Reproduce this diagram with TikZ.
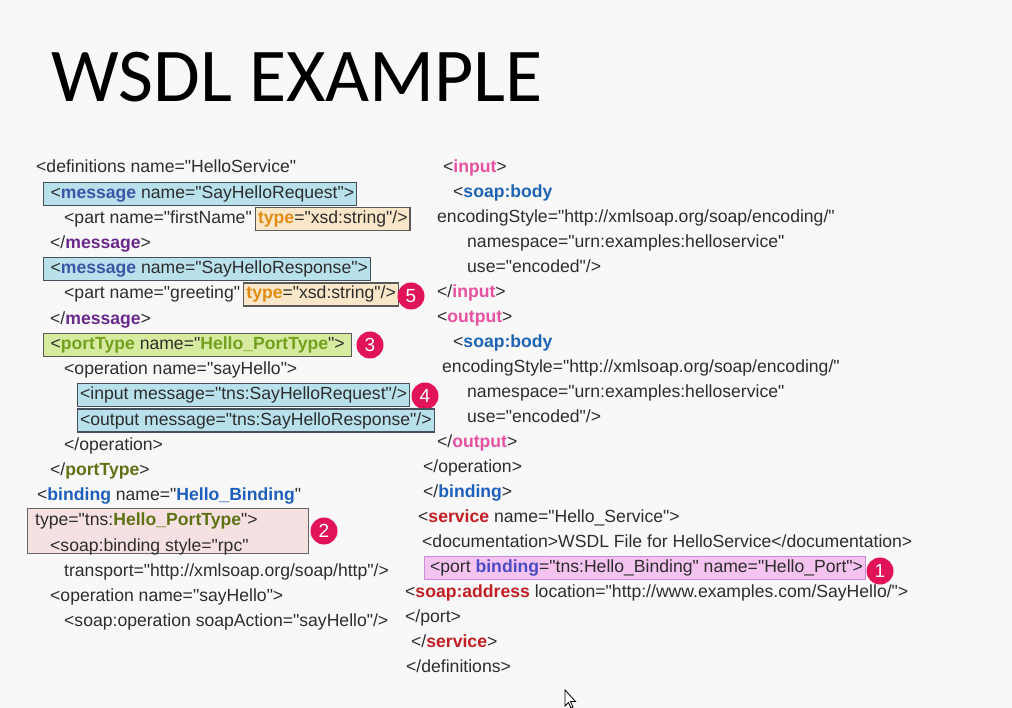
\documentclass[tikz,border=0pt]{standalone}
\usepackage{fontspec}
\setmainfont{Liberation Sans}[Ligatures=TeXOff]
\newfontfamily\titlefont{Carlito}
\definecolor{bg}{RGB}{248,248,248}
\definecolor{txt}{RGB}{45,45,45}
\definecolor{msgc}{RGB}{60,85,165}
\definecolor{msgend}{RGB}{105,40,140}
\definecolor{ptc}{RGB}{115,160,30}
\definecolor{ptend}{RGB}{95,115,20}
\definecolor{bindc}{RGB}{30,95,190}
\definecolor{typec}{RGB}{225,140,20}
\definecolor{ioc}{RGB}{232,80,160}
\definecolor{bodyc}{RGB}{30,100,180}
\definecolor{servc}{RGB}{195,30,35}
\definecolor{portbc}{RGB}{75,75,195}
\definecolor{circc}{RGB}{225,20,90}
\definecolor{msgfill}{RGB}{185,225,236}
\definecolor{typefill}{RGB}{250,230,200}
\definecolor{ptfill}{RGB}{215,235,160}
\definecolor{bindfill}{RGB}{245,225,225}
\definecolor{portfill}{RGB}{245,195,240}
\definecolor{portdraw}{RGB}{200,140,220}
\definecolor{boxdraw}{RGB}{70,80,90}
\newcommand\codefont{\fontsize{17.6}{20}\selectfont}
\newcommand\hl[2]{\textcolor{#1}{\bfseries #2}}
\begin{document}
\begin{tikzpicture}[x=1pt,y=-1pt,
  code/.style={anchor=base west, inner sep=0pt, font=\codefont, text=txt},
  hbox/.style={code, inner xsep=2.5pt, inner ysep=0pt, text height=16pt, text depth=7pt, line width=1.2pt, draw=boxdraw},
  msgbox/.style={hbox, fill=msgfill},
  typebox/.style={hbox, fill=typefill, draw=black!65},
  ptbox/.style={hbox, fill=ptfill, draw=black!65},
  iobox/.style={hbox, fill=msgfill},
  portbox/.style={hbox, fill=portfill, draw=portdraw},
  bindbox/.style={anchor=north west, inner sep=0pt, fill=bindfill, draw=black!60, line width=1.2pt, minimum width=281pt, minimum height=45pt},
  num/.style={circle, fill=circc, text=white, minimum size=27pt, inner sep=0pt, font=\fontsize{19}{20}\selectfont}
]
\useasboundingbox (0,0) rectangle (1012,708);
\fill[bg] (0,0) rectangle (1012,708);

\node[anchor=base west, inner sep=0pt, font=\titlefont\fontsize{76}{80}\selectfont] (title) at (51,101.5) {WSDL EXAMPLE};

% ---------- left column ----------
\node[code] (d1) at (36,173) {<definitions name="HelloService"};
\node[msgbox] (m1) at (43,198.2) {\hspace*{4.5pt}<\hl{msgc}{message} name="SayHelloRequest">};
\node[code] (p1) at (64,223.4) {<part name="firstName"};
\node[typebox] (t1) at ([xshift=3pt]p1.base east) {\hl{typec}{type}="xsd:string"/>};
\node[code] (e1) at (50,248.6) {</\hl{msgend}{message}>};
\node[msgbox] (m2) at (43,273.8) {\hspace*{4.5pt}<\hl{msgc}{message} name="SayHelloResponse">};
\node[code] (p2) at (64,299) {<part name="greeting"};
\node[typebox] (t2) at ([xshift=3pt]p2.base east) {\hl{typec}{type}="xsd:string"/>};
\node[num] (c5) at (411,296) {5};
\node[code] (e2) at (50,324.2) {</\hl{msgend}{message}>};
\node[ptbox] (pt) at (43,349.4) {\hspace*{4.5pt}<\hl{ptc}{portType} name="\hl{ptc}{Hello\_PortType}">\hspace*{4pt}};
\node[num] (c3) at (370,345) {3};
\node[code] (o1) at (64,374.6) {<operation name="sayHello">};
\node[iobox] (i1) at (77,399.8) {<input message="tns:SayHelloRequest"/>};
\node[num] (c4) at (425,396) {4};
\node[iobox] (i2) at (77,425) {<output message="tns:SayHelloResponse"/>};
\node[code] (o2) at (64,450.2) {</operation>};
\node[code] (pe) at (50,475.4) {</\hl{ptend}{portType}>};
\node[code] (b1) at (37,500.6) {<\hl{bindc}{binding} name="\hl{bindc}{Hello\_Binding}"};
\node[bindbox] (bb) at (27,508) {};
\node[code] (b2) at (35,525.8) {type="tns:\hl{ptend}{Hello\_PortType}">};
\node[code] (b3) at (50,551) {<soap:binding style="rpc"};
\node[num] (c2) at (324,531) {2};
\node[code] (b4) at (64,576.2) {transport="http://xmlsoap.org/soap/http"/>};
\node[code] (b5) at (50,601.4) {<operation name="sayHello">};
\node[code] (b6) at (64,626.6) {<soap:operation soapAction="sayHello"/>};

% ---------- right column ----------
\node[code] (r1) at (443,173) {<\hl{ioc}{input}>};
\node[code] (r2) at (453,197.95) {<\hl{bodyc}{soap:body}};
\node[code] (r3) at (437,222.9) {encodingStyle="http://xmlsoap.org/soap/encoding/"};
\node[code] (r4) at (467,247.85) {namespace="urn:examples:helloservice"};
\node[code] (r5) at (467,272.8) {use="encoded"/>};
\node[code] (r6) at (437,297.75) {</\hl{ioc}{input}>};
\node[code] (r7) at (437,322.7) {<\hl{ioc}{output}>};
\node[code] (r8) at (453,347.65) {<\hl{bodyc}{soap:body}};
\node[code] (r9) at (442,372.6) {encodingStyle="http://xmlsoap.org/soap/encoding/"};
\node[code] (r10) at (467,397.55) {namespace="urn:examples:helloservice"};
\node[code] (r11) at (467,422.5) {use="encoded"/>};
\node[code] (r12) at (437,447.45) {</\hl{ioc}{output}>};
\node[code] (r13) at (423,472.4) {</operation>};
\node[code] (r14) at (423,497.35) {</\hl{bindc}{binding}>};
\node[code] (r15) at (418,522.3) {<\hl{servc}{service} name="Hello\_Service">};
\node[code] (r16) at (422,547.25) {<documentation>WSDL File for HelloService</documentation>};
\node[portbox] (r17) at (424,572.2) {\hspace*{3pt}<port \hl{portbc}{binding}="tns:Hello\_Binding" name="Hello\_Port">};
\node[num] (c1) at (880,571) {1};
\node[code] (r18) at (405,597.15) {<\hl{servc}{soap:address} location="http://www.examples.com/SayHello/">};
\node[code] (r19) at (405,622.1) {</port>};
\node[code] (r20) at (411,647.05) {</\hl{servc}{service}>};
\node[code] (r21) at (406,672) {</definitions>};

% mouse pointer
\draw[fill=white, line width=0.8pt, line join=miter] (565,690) -- (565,706) -- (568.5,702.5) -- (571,708) -- (573,707) -- (570.5,701.5) -- (575.5,701.5) -- cycle;
\end{tikzpicture}
\end{document}
